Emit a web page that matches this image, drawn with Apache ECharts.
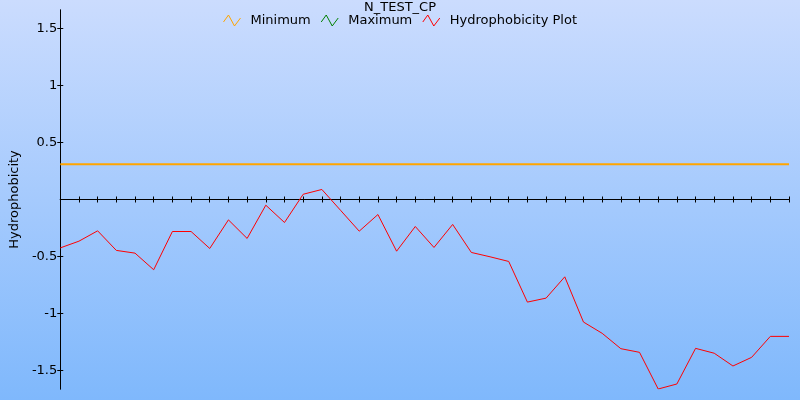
<!DOCTYPE html>
<html>
<head>
<meta charset="utf-8">
<script src="https://cdn.jsdelivr.net/npm/echarts@6/dist/echarts.min.js"></script>
<style>
html,body{margin:0;padding:0;}
#chart{width:800px;height:400px;}
</style>
</head>
<body>
<div id="chart"></div>
<script>
// ---- data ----
var titleText = 'N_TEST_CP';
var yAxisName = 'Hydrophobicity';
var positions = [1,2,3,4,5,6,7,8,9,10,11,12,13,14,15,16,17,18,19,20,21,22,23,24,25,26,27,28,29,30,31,32,33,34,35,36,37,38,39,40];
var hydrophobicity = [-0.425,-0.366,-0.275,-0.447,-0.471,-0.617,-0.281,-0.281,-0.430,-0.179,
                      -0.342,-0.050,-0.202,0.046,0.088,-0.095,-0.278,-0.132,-0.454,-0.237,
                      -0.421,-0.219,-0.465,-0.503,-0.544,-0.901,-0.866,-0.679,-1.076,-1.175,
                      -1.310,-1.342,-1.664,-1.620,-1.307,-1.350,-1.462,-1.386,-1.202,-1.202];
var minimumValues = [0.31,0.31,0.31,0.31,0.31,0.31,0.31,0.31,0.31,0.31,
                     0.31,0.31,0.31,0.31,0.31,0.31,0.31,0.31,0.31,0.31,
                     0.31,0.31,0.31,0.31,0.31,0.31,0.31,0.31,0.31,0.31,
                     0.31,0.31,0.31,0.31,0.31,0.31,0.31,0.31,0.31,0.31];
var maximumValues = [];
var yTickValues = [-1.5,-1,-0.5,0.5,1,1.5];
var yMin = -1.664, yMax = 1.664;

var font = 'DejaVu Sans';
var zig = 'path://M0,7 L5,0 L11,11 L17,3';

var chart = echarts.init(document.getElementById('chart'));
var yBase = {
  type: 'value', min: yMin, max: yMax, position: 'left',
  splitLine: {show: false},
  axisLine: {show: true, lineStyle: {color: '#000', width: 1}}
};
chart.setOption({
  backgroundColor: new echarts.graphic.LinearGradient(0, 0, 0, 1, [
    {offset: 0, color: '#cbdcfe'},
    {offset: 1, color: '#7fb8fc'}
  ]),
  animation: false,
  title: {
    text: titleText, left: 'center', top: -4,
    textStyle: {fontFamily: font, fontSize: 13, fontWeight: 'normal', color: '#000'}
  },
  legend: {
    top: 9, left: 'center', itemGap: 10, itemWidth: 17, itemHeight: 11,
    textStyle: {fontFamily: font, fontSize: 13, color: '#000', padding: [0,0,0,5]},
    data: [
      {name: 'Minimum', icon: zig, itemStyle: {color: 'transparent', borderColor: '#ffa500', borderWidth: 1}},
      {name: 'Maximum', icon: zig, itemStyle: {color: 'transparent', borderColor: '#008000', borderWidth: 1}},
      {name: 'Hydrophobicity Plot', icon: zig, itemStyle: {color: 'transparent', borderColor: '#ff0000', borderWidth: 1}}
    ]
  },
  grid: {left: 59, right: 11, top: 10, bottom: 11},
  xAxis: [{
    type: 'category', data: positions, boundaryGap: false, position: 'bottom',
    axisLine: {onZero: true, lineStyle: {color: '#000', width: 1}},
    axisTick: {show: true, interval: 0, length: 3, lineStyle: {color: '#000'}},
    axisLabel: {show: false}
  }, {
    type: 'category', data: positions, boundaryGap: false, position: 'top',
    axisLine: {onZero: true, lineStyle: {color: '#000', width: 1}},
    axisTick: {show: true, interval: 0, length: 3, lineStyle: {color: '#000'}},
    axisLabel: {show: false}
  }],
  yAxis: [Object.assign({}, yBase, {
    name: yAxisName, nameLocation: 'middle', nameGap: 37, nameRotate: 90,
    nameTextStyle: {fontFamily: font, fontSize: 13, color: '#000'},
    axisTick: {show: true, length: 3, customValues: yTickValues, lineStyle: {color: '#000'}},
    axisLabel: {show: true, margin: 3, customValues: yTickValues, fontFamily: font, fontSize: 13, color: '#000'}
  }), Object.assign({}, yBase, {
    axisTick: {show: true, inside: true, length: 3, customValues: yTickValues, lineStyle: {color: '#000'}},
    axisLabel: {show: false}
  })],
  series: [
    {name: 'Minimum', type: 'line', data: minimumValues, showSymbol: false, symbol: 'none',
     lineStyle: {color: '#ffa500', width: 2}, itemStyle: {color: '#ffa500'}},
    {name: 'Maximum', type: 'line', data: maximumValues, showSymbol: false, symbol: 'none',
     lineStyle: {color: '#008000', width: 1}, itemStyle: {color: '#008000'}},
    {name: 'Hydrophobicity Plot', type: 'line', data: hydrophobicity, showSymbol: false, symbol: 'none',
     lineStyle: {color: '#ff0000', width: 1}, itemStyle: {color: '#ff0000'}}
  ]
});
</script>
</body>
</html>
